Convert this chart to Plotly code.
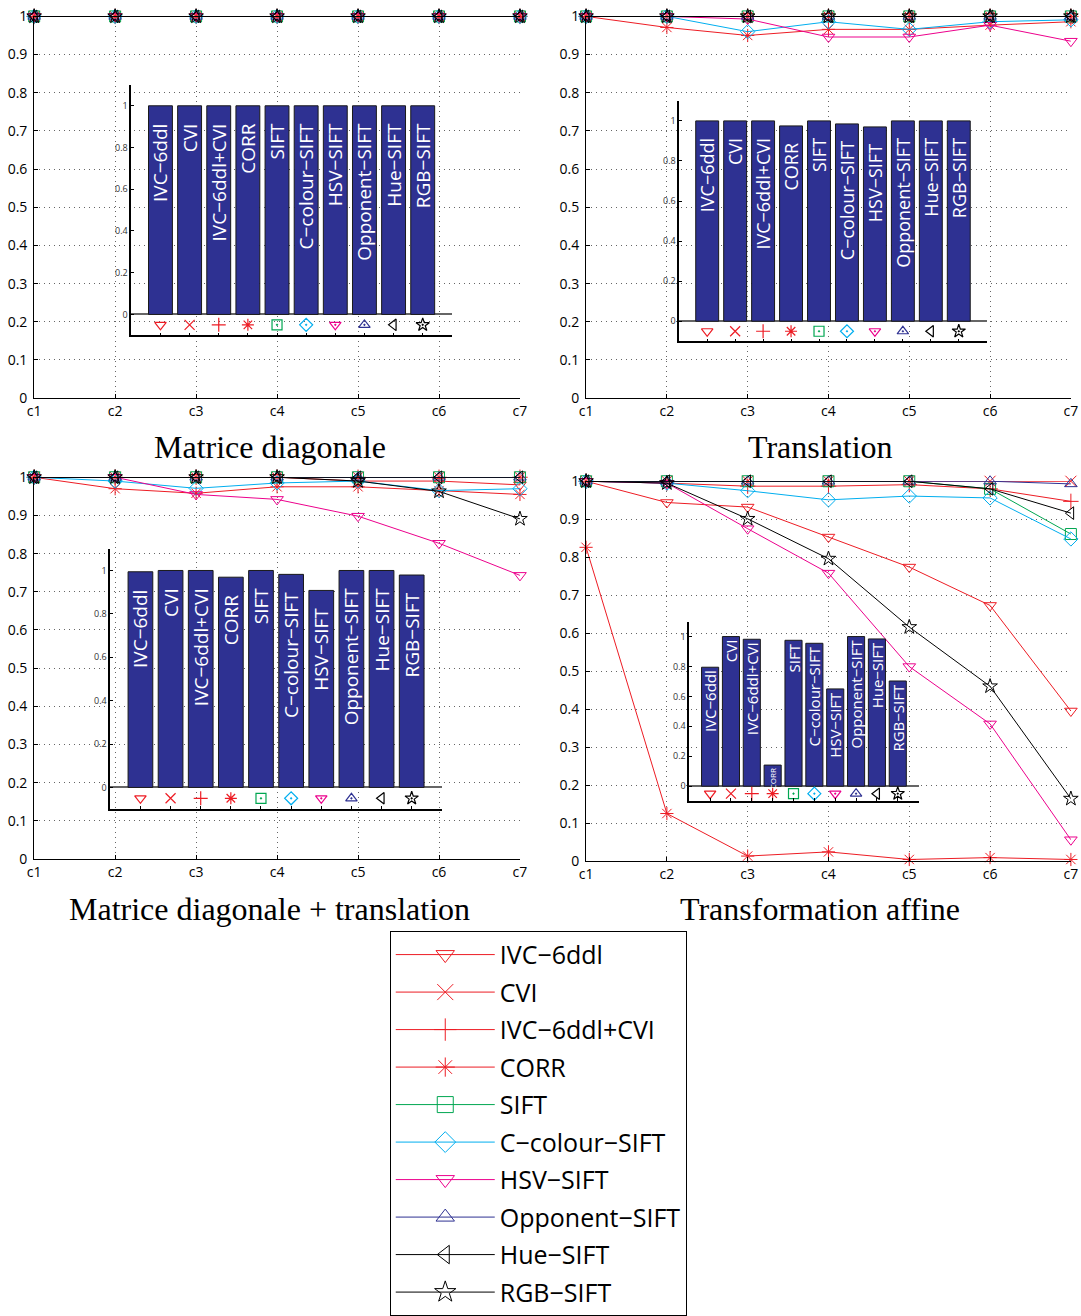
import plotly.graph_objects as go

# The page shows the figure with an 8px body margin and the capture is scaled slightly;
# target pixel positions are converted to figure fractions with these factors.
PAGE_OFF = 8
SX, SY = 1081 / 1097, 1316 / 1332
W, H = 1081, 1316

# ---------------- data ----------------
conditions = ['c1', 'c2', 'c3', 'c4', 'c5', 'c6', 'c7']
descriptors = ['IVC−6ddl', 'CVI', 'IVC−6ddl+CVI', 'CORR', 'SIFT', 'C−colour−SIFT',
               'HSV−SIFT', 'Opponent−SIFT', 'Hue−SIFT', 'RGB−SIFT']
panel_titles = ['Matrice diagonale', 'Translation',
                'Matrice diagonale + translation', 'Transformation affine']
y_ticks = [0, 0.1, 0.2, 0.3, 0.4, 0.5, 0.6, 0.7, 0.8, 0.9, 1]
inset_ticks = [0, 0.2, 0.4, 0.6, 0.8, 1]

# rows follow `descriptors`, columns follow `conditions`
diag_values = [
    [1, 1, 1, 1, 1, 1, 1],
    [1, 1, 1, 1, 1, 1, 1],
    [1, 1, 1, 1, 1, 1, 1],
    [1, 1, 1, 1, 1, 1, 1],
    [1, 1, 1, 1, 1, 1, 1],
    [1, 1, 1, 1, 1, 1, 1],
    [1, 1, 1, 1, 1, 1, 1],
    [1, 1, 1, 1, 1, 1, 1],
    [1, 1, 1, 1, 1, 1, 1],
    [1, 1, 1, 1, 1, 1, 1],
]
translation_values = [
    [1, 1, 1, 1, 1, 1, 1],
    [1, 1, 1, 1, 1, 1, 1],
    [1, 1, 1, 1, 1, 1, 1],
    [1, 0.971, 0.95, 0.966, 0.966, 0.977, 0.986],
    [1, 1, 1, 1, 1, 1, 1],
    [1, 1, 0.96, 0.986, 0.966, 0.986, 0.991],
    [1, 1, 0.993, 0.946, 0.946, 0.977, 0.935],
    [1, 1, 1, 1, 1, 1, 1],
    [1, 1, 1, 1, 1, 1, 1],
    [1, 1, 1, 1, 1, 1, 1],
]
diag_transl_values = [
    [1, 1, 1, 1, 0.99, 0.99, 0.98],
    [1, 1, 1, 1, 1, 1, 1],
    [1, 1, 1, 1, 1, 1, 1],
    [1, 0.97, 0.958, 0.975, 0.975, 0.965, 0.955],
    [1, 1, 1, 1, 1, 1, 1],
    [1, 0.99, 0.971, 0.985, 0.99, 0.965, 0.97],
    [1, 1, 0.955, 0.942, 0.898, 0.827, 0.743],
    [1, 1, 1, 1, 1, 1, 1],
    [1, 1, 1, 1, 1, 1, 1],
    [1, 1, 1, 1, 0.99, 0.963, 0.891],
]
affine_values = [
    [1, 0.944, 0.932, 0.853, 0.774, 0.673, 0.395],
    [1, 1, 1, 1, 1, 1, 1],
    [1, 0.995, 0.987, 0.987, 0.991, 0.98, 0.947],
    [0.826, 0.125, 0.013, 0.024, 0.004, 0.009, 0.004],
    [1, 1, 1, 1, 1, 0.98, 0.861],
    [1, 0.995, 0.975, 0.951, 0.961, 0.956, 0.848],
    [1, 0.995, 0.875, 0.758, 0.512, 0.361, 0.056],
    [1, 1, 1, 1, 1, 1, 0.993],
    [1, 1, 1, 1, 1, 0.98, 0.916],
    [1, 0.995, 0.901, 0.796, 0.616, 0.46, 0.164],
]
diag_bars = [1, 1, 1, 1, 1, 1, 1, 1, 1, 1]
translation_bars = [1, 1, 1, 0.975, 1, 0.985, 0.97, 1, 1, 1]
diag_transl_bars = [0.994, 1, 1, 0.969, 1, 0.982, 0.908, 1, 1, 0.979]
affine_bars = [0.795, 1, 0.982, 0.141, 0.975, 0.955, 0.65, 1, 0.984, 0.703]

panel_values = [diag_values, translation_values, diag_transl_values, affine_values]
panel_bars = [diag_bars, translation_bars, diag_transl_bars, affine_bars]

# ---------------- styles ----------------
RED, GREEN, CYAN, MAG, BLUE, BLACK = '#ED1C24', '#00A651', '#00AEEF', '#EC008C', '#2E3192', '#000000'
colors = [RED, RED, RED, RED, GREEN, CYAN, MAG, BLUE, BLACK, BLACK]
symbols = ['triangle-down-open', 'x-thin-open', 'cross-thin-open', 'asterisk-open', 'square-open',
           'diamond-open', 'triangle-down-open', 'triangle-up-open', 'triangle-left-open', 'star-open']
inset_symbols = ['triangle-down-open', 'x-thin-open', 'cross-thin-open', 'asterisk-open', 'square-open-dot',
                 'diamond-open-dot', 'triangle-down-open-dot', 'triangle-up-open-dot', 'triangle-left-open',
                 'star-open-dot']
BAR_COLOR = '#2E3192'
SANS = 'Open Sans'
SERIF = 'Liberation Serif'
GRID = dict(showgrid=True, gridcolor='#666', griddash='1px,4px', gridwidth=1)
NB = '\u00a0'

# target pixel boxes in the captured picture: (left, right, top, bottom)
main_boxes = [(35, 520, 14, 397), (586, 1070, 14, 397), (35, 520, 476, 859), (586, 1070, 480, 861)]
inset_boxes = [(132, 452, 83, 334), (679, 986, 99, 340), (111, 442, 548, 809), (689, 918, 621, 801)]
inset_font = [19, 18, 19, [15, 15, 15, 8, 15, 15, 15, 15, 15, 15]]
inset_template = ['%{text}' + NB * 3, '%{text}' + NB * 3, '%{text}' + NB * 3, '%{text}']
title_pos = [(270, 446), (820, 446), (270, 909), (820, 909)]


def fx(px):
    return (px / SX - PAGE_OFF) / W


def fy(py):
    return 1 - (py / SY - PAGE_OFF) / H


def dx(l, r):
    return [fx(l), fx(r)]


def dy(t, b):
    return [fy(b), fy(t)]


fig = go.Figure()
layout = dict(width=W, height=H, autosize=False, margin=dict(l=0, r=0, t=0, b=0),
              paper_bgcolor='white', plot_bgcolor='rgba(0,0,0,0)', annotations=[])

for p in range(4):
    xa, ya = f'x{p + 1}', f'y{p + 1}'
    l, r, t, b = main_boxes[p]
    layout['xaxis' + ('' if p == 0 else str(p + 1))] = dict(
        domain=dx(l, r), anchor=ya, type='category', categoryorder='array', categoryarray=conditions,
        range=[0, len(conditions) - 1], showline=True, linecolor='black', linewidth=1,
        ticks='inside', ticklen=4, tickcolor='black', **GRID,
        tickfont=dict(family=SANS, size=14, color='black'),
        zeroline=False, fixedrange=True)
    layout['yaxis' + ('' if p == 0 else str(p + 1))] = dict(
        domain=dy(t, b), anchor=xa, range=[0, 1.0008], tickvals=y_ticks,
        showline=True, linecolor='black', linewidth=1, ticks='inside', ticklen=4, tickcolor='black',
        **GRID, zeroline=False, ticklabelstandoff=3,
        tickfont=dict(family=SANS, size=14, color='black'), fixedrange=True)
    for s in range(10):
        fig.add_trace(go.Scatter(
            x=conditions, y=panel_values[p][s], xaxis=xa, yaxis=ya, mode='lines+markers',
            name=descriptors[s], showlegend=False, cliponaxis=False,
            line=dict(color=colors[s], width=1),
            marker=dict(symbol=symbols[s], size=11, color=colors[s],
                        line=dict(color=colors[s], width=1))))
    tx, ty = title_pos[p]
    layout['annotations'].append(dict(
        text=panel_titles[p], x=fx(tx), y=fy(ty), xref='paper', yref='paper',
        xanchor='center', yanchor='middle', showarrow=False,
        font=dict(family=SERIF, size=32, color='black')))

# insets
for p in range(4):
    n = p + 5
    xa, ya = f'x{n}', f'y{n}'
    l, r, t, b = inset_boxes[p]
    layout[f'xaxis{n}'] = dict(
        domain=dx(l, r), anchor=ya, type='category', categoryorder='array', categoryarray=descriptors,
        range=[-1, len(descriptors)], showline=True, linecolor='black', linewidth=1.5,
        ticks='inside', ticklen=3, tickcolor='black', showticklabels=False, showgrid=False,
        zeroline=False, fixedrange=True)
    layout[f'yaxis{n}'] = dict(
        domain=dy(t, b), anchor=xa, range=[-0.1, 1.1], tickvals=inset_ticks,
        showline=True, linecolor='black', linewidth=1.5, ticks='inside', ticklen=3, tickcolor='black',
        showgrid=False, zeroline=True, zerolinecolor='#666', zerolinewidth=1.5,
        tickfont=dict(family=SANS, size=9, color='#333'), fixedrange=True)
    fig.add_trace(go.Bar(
        x=descriptors, y=panel_bars[p], xaxis=xa, yaxis=ya, width=0.82, showlegend=False,
        marker=dict(color=BAR_COLOR, line=dict(color='#1a1a1a', width=1)),
        text=descriptors, texttemplate=inset_template[p], textposition='inside',
        insidetextanchor='end', textangle=-90, constraintext='none', cliponaxis=False,
        textfont=dict(family=SANS, size=inset_font[p], color='white')))
    fig.add_trace(go.Scatter(
        x=descriptors, y=[-0.05] * len(descriptors), xaxis=xa, yaxis=ya, mode='markers',
        showlegend=False, cliponaxis=False,
        marker=dict(symbol=inset_symbols, size=10, color=colors, line=dict(color=colors, width=1.2))))

# legend entries
for s in range(10):
    fig.add_trace(go.Scatter(
        x=[None], y=[None], xaxis='x1', yaxis='y1', mode='lines+markers', name=descriptors[s],
        legendgroup=descriptors[s], showlegend=True,
        line=dict(color=colors[s], width=1),
        marker=dict(symbol=symbols[s], size=16, color=colors[s], line=dict(color=colors[s], width=1))))

layout['showlegend'] = True
layout['legend'] = dict(x=fx(390), y=fy(931), xanchor='left', yanchor='top',
                        bgcolor='white', bordercolor='black', borderwidth=1,
                        font=dict(family=SANS, size=25, color='black'),
                        tracegroupgap=2, itemwidth=99, traceorder='grouped')

fig.update_layout(**layout)
fig.write_html('out.html')
